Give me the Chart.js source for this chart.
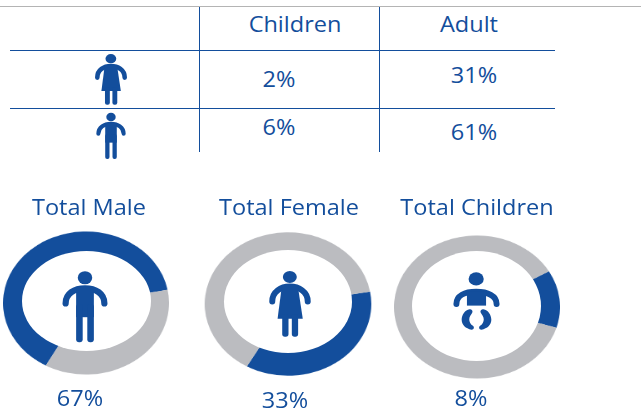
<!DOCTYPE html>
<html>
<head>
<meta charset="utf-8">
<script src="https://cdn.jsdelivr.net/npm/chart.js@4/dist/chart.umd.js"></script>
<style>
  html, body { margin: 0; padding: 0; background: #fff; }
  #page { position: relative; width: 641px; height: 410px; overflow: hidden; font-family: "Open Sans", sans-serif; color: #134e9c; }
  .line { position: absolute; background: #134e9c; }
  .txt { position: absolute; transform: translateX(-50%) scaleX(1.12); white-space: nowrap; line-height: 1; }
  .ring { position: absolute; width: 200px; height: 200px; transform-origin: 50% 50%; }
  .ring canvas { display: block; }
  .hole { position: absolute; background: #fff; border-radius: 50%; }
  .icon { position: absolute; }
</style>
</head>
<body>
<svg width="0" height="0" style="position:absolute">
  <symbol id="male" viewBox="0 0 140 218">
    <ellipse cx="70" cy="20" rx="22" ry="20" fill="#134e9c"/>
    <path d="M11,98 C11,68 38,52 70,52 C102,52 129,68 129,98" fill="none" stroke="#134e9c" stroke-width="19" stroke-linecap="round"/>
    <rect x="43" y="48" width="54" height="92" fill="#134e9c"/>
    <rect x="43" y="100" width="20" height="116" rx="9" fill="#134e9c"/>
    <rect x="77" y="100" width="20" height="116" rx="9" fill="#134e9c"/>
  </symbol>
  <symbol id="female" viewBox="0 0 125 199">
    <ellipse cx="62" cy="18" rx="21" ry="18" fill="#134e9c"/>
    <path d="M9,92 C9,62 35,47 62,47 C89,47 116,62 116,92" fill="none" stroke="#134e9c" stroke-width="18" stroke-linecap="round"/>
    <path d="M38,45 L86,45 L101,144 L25,144 Z" fill="#134e9c"/>
    <rect x="39" y="130" width="19" height="68" rx="8" fill="#134e9c"/>
    <rect x="68" y="130" width="19" height="68" rx="8" fill="#134e9c"/>
  </symbol>
  <symbol id="baby" viewBox="0 0 142 176">
    <ellipse cx="70" cy="21" rx="23" ry="20" fill="#134e9c"/>
    <path d="M10,97 C10,72 35,60 70,60 C105,60 132,72 132,97" fill="none" stroke="#134e9c" stroke-width="18" stroke-linecap="round"/>
    <rect x="42" y="60" width="58" height="42" fill="#134e9c"/>
    <path d="M50,113 C36,115 26,130 26,145 C26,160 38,172 56,175 C64,175 65,166 60,163 C52,158 49,150 49,143 C49,135 56,129 58,124 C61,117 56,113 50,113 Z" fill="#134e9c"/>
    <path d="M92,113 C106,115 116,130 116,145 C116,160 104,172 86,175 C78,175 77,166 82,163 C90,158 93,150 93,143 C93,135 86,129 84,124 C81,117 86,113 92,113 Z" fill="#134e9c"/>
  </symbol>
</svg>
<div id="page"></div>
<script>
// table
var columnNames = ['Children', 'Adult'];
var femaleRow = ['2%', '31%'];
var maleRow = ['6%', '61%'];

// rings
var ringTitles = ['Total Male', 'Total Female', 'Total Children'];
var ringLabels = ['67%', '33%', '8%'];
var ringFilled = [64, 36, 13];   // share of the ring drawn blue, as measured on the picture
var ringRest = [36, 64, 87];
var ringStart = [209, 80, 60];   // degrees clockwise from the top

var BLUE = '#134e9c';
var GREY = '#bbbcc0';
var page = document.getElementById('page');

function addLine(x, y, w, h, color) {
  var el = document.createElement('div');
  el.className = 'line';
  el.style.cssText = 'left:' + x + 'px;top:' + y + 'px;width:' + w + 'px;height:' + h + 'px;' + (color ? 'background:' + color : '');
  page.appendChild(el);
}

function addText(str, cx, top, size) {
  var el = document.createElement('div');
  el.className = 'txt';
  el.textContent = str;
  el.style.left = cx + 'px';
  el.style.top = top + 'px';
  el.style.fontSize = size + 'px';
  page.appendChild(el);
}

function addIcon(name, x, y, w, h) {
  var svg = document.createElementNS('http://www.w3.org/2000/svg', 'svg');
  svg.setAttribute('class', 'icon');
  svg.setAttribute('width', w);
  svg.setAttribute('height', h);
  svg.style.left = x + 'px';
  svg.style.top = y + 'px';
  var use = document.createElementNS('http://www.w3.org/2000/svg', 'use');
  use.setAttribute('href', '#' + name);
  use.setAttribute('width', w);
  use.setAttribute('height', h);
  svg.appendChild(use);
  page.appendChild(svg);
}

// grid of the table
addLine(0, 6, 641, 1, '#b4b4b4');
addLine(10, 50, 545, 1);
addLine(10, 108, 545, 1);
addLine(199, 7, 1, 145);
addLine(379, 7, 1, 145);

addText(columnNames[0], 294.5, 14, 21);
addText(columnNames[1], 469, 14, 21);
addText(femaleRow[0], 279, 69, 21);
addText(femaleRow[1], 474, 65, 21);
addText(maleRow[0], 279, 117, 21);
addText(maleRow[1], 474, 122, 21);

addIcon('female', 95, 54, 32, 51);
addIcon('male', 96, 112, 30, 48);

// where each ring sits, outer and inner ellipse
var ringBox = [
  { cx: 86.3, cy: 302.5, rx: 83, ry: 71.5, hx: 86.5, hy: 301.4, hrx: 64.5, hry: 50 },
  { cx: 288.3, cy: 304.3, rx: 83.3, ry: 71.7, hx: 288, hy: 301.5, hrx: 64, hry: 51.5 },
  { cx: 476.5, cy: 306.5, rx: 83, ry: 71.5, hx: 476.3, hy: 306.3, hrx: 64.5, hry: 55 }
];
var titleX = [89, 289, 477];
var labelX = [80, 285, 471];
var labelY = [388, 390, 388];

for (var i = 0; i < ringTitles.length; i++) {
  var b = ringBox[i];
  var wrap = document.createElement('div');
  wrap.className = 'ring';
  wrap.style.left = (b.cx - 100) + 'px';
  wrap.style.top = (b.cy - 100) + 'px';
  wrap.style.transform = 'scale(' + (b.rx / 100) + ',' + (b.ry / 100) + ')';
  var canvas = document.createElement('canvas');
  canvas.width = 200;
  canvas.height = 200;
  wrap.appendChild(canvas);
  page.appendChild(wrap);

  new Chart(canvas.getContext('2d'), {
    type: 'doughnut',
    data: {
      labels: ['Share', 'Rest'],
      datasets: [{
        data: [ringFilled[i], ringRest[i]],
        backgroundColor: [BLUE, GREY],
        borderWidth: 0
      }]
    },
    options: {
      responsive: false,
      animation: false,
      cutout: '60%',
      rotation: ringStart[i],
      plugins: { legend: { display: false }, tooltip: { enabled: false } }
    }
  });

  // ring is not evenly thick in the picture, so the hole is its own ellipse
  var hole = document.createElement('div');
  hole.className = 'hole';
  hole.style.left = (b.hx - b.hrx) + 'px';
  hole.style.top = (b.hy - b.hry) + 'px';
  hole.style.width = (b.hrx * 2) + 'px';
  hole.style.height = (b.hry * 2) + 'px';
  page.appendChild(hole);

  addText(ringTitles[i], titleX[i], 197, 21);
  addText(ringLabels[i], labelX[i], labelY[i], 21);
}

addIcon('male', 62, 271, 46, 72);
addIcon('female', 269, 271, 42, 66);
addIcon('baby', 453, 272, 47, 58);
</script>
</body>
</html>
